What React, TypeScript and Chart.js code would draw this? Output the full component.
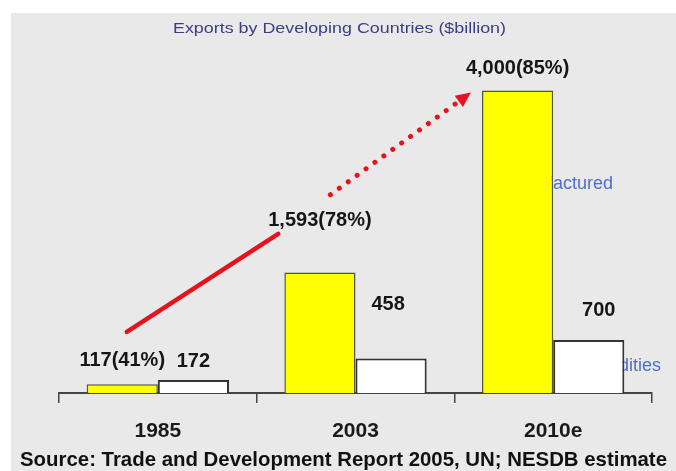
import React, { useEffect, useRef } from 'react';
import { Chart, registerables } from 'chart.js';

Chart.register(...registerables);

const W = 676;
const H = 471;

const categories = ['1985', '2003', '2010e'];
const manufactured = [117, 1593, 4000];
const commodities = [172, 458, 700];
const manufacturedShare = [41, 78, 85];
const seriesNames = ['Manufactured', 'Commodities'];
const titleText = 'Exports by Developing Countries ($billion)';
const sourceText = 'Source: Trade and Development Report 2005, UN; NESDB estimate';
const yMax = 5000;

// trend arrow annotation, in (category index, value) units
const trendSolid = [[-0.157, 808], [0.609, 2106]];
const trendDotted = [[0.873, 2623], [1.584, 3974]];

// label gaps above bar tops (px)
const manufLabelGap = [18, 47, 17];
const commLabelGap = [13, 48, 24];
const commLabelDx = [0, -3, 10];

const fmt = (v: number) => String(v).replace(/\B(?=(\d{3})+(?!\d))/g, ',');

function fitText(ctx: CanvasRenderingContext2D, text: string, x0: number, x1: number, baseline: number, font: string, color: string) {
  ctx.save();
  ctx.font = font;
  ctx.fillStyle = color;
  ctx.textAlign = 'left';
  ctx.textBaseline = 'alphabetic';
  const w = ctx.measureText(text).width;
  const sx = (x1 - x0) / w;
  ctx.translate(x0, baseline);
  ctx.scale(sx, 1);
  ctx.fillText(text, 0, 0);
  ctx.restore();
}

const RED = '#e8121c';

const decor = {
  id: 'decor',
  beforeDraw(chart: any) {
    const ctx = chart.ctx as CanvasRenderingContext2D;
    ctx.save();
    ctx.fillStyle = '#ffffff';
    ctx.fillRect(0, 0, W, H);
    ctx.fillStyle = '#e9e9e9';
    ctx.fillRect(11, 13, W - 11, H - 13);
    ctx.restore();
  },
  beforeDatasetsDraw(chart: any) {
    const ctx = chart.ctx as CanvasRenderingContext2D;
    ctx.save();
    ctx.font = '18px "Liberation Sans", Arial, sans-serif';
    ctx.fillStyle = '#4f6fc9';
    ctx.textAlign = 'right';
    ctx.textBaseline = 'alphabetic';
    ctx.fillText(seriesNames[0], 613, 189);
    ctx.fillText(seriesNames[1], 661, 371);
    ctx.restore();
  },
  afterDraw(chart: any) {
    const ctx = chart.ctx as CanvasRenderingContext2D;
    fitText(ctx, titleText, 173, 506, 33, '15px "Liberation Sans", Arial, sans-serif', '#3d3d84');
    fitText(ctx, sourceText, 20, 667, 466, 'bold 21px "Liberation Sans", Arial, sans-serif', '#111111');

    const m0 = chart.getDatasetMeta(0).data;
    const m1 = chart.getDatasetMeta(1).data;
    ctx.save();
    ctx.font = 'bold 20px "Liberation Sans", Arial, sans-serif';
    ctx.fillStyle = '#161616';
    ctx.textAlign = 'center';
    ctx.textBaseline = 'alphabetic';
    categories.forEach((_, i) => {
      const a = m0[i];
      const b = m1[i];
      ctx.fillText(`${fmt(manufactured[i])}(${manufacturedShare[i]}%)`, a.x, a.y - manufLabelGap[i]);
      ctx.fillText(fmt(commodities[i]), b.x + commLabelDx[i], b.y - commLabelGap[i]);
    });
    ctx.restore();

    const xs = chart.scales.x;
    const ys = chart.scales.y;
    const P = (p: number[]) => [xs.getPixelForValue(p[0]), ys.getPixelForValue(p[1])];

    // solid part
    const s0 = P(trendSolid[0]);
    const s1 = P(trendSolid[1]);
    ctx.save();
    ctx.strokeStyle = RED;
    ctx.lineWidth = 4.5;
    ctx.lineCap = 'round';
    ctx.beginPath();
    ctx.moveTo(s0[0], s0[1]);
    ctx.lineTo(s1[0], s1[1]);
    ctx.stroke();

    // dotted part with arrowhead
    const d0 = P(trendDotted[0]);
    const d1 = P(trendDotted[1]);
    const ang = Math.atan2(d1[1] - d0[1], d1[0] - d0[0]);
    const headLen = 15;
    const headHalf = 7;
    const bx = d1[0] - Math.cos(ang) * headLen;
    const by = d1[1] - Math.sin(ang) * headLen;
    ctx.setLineDash([0.01, 11]);
    ctx.lineWidth = 5;
    ctx.beginPath();
    ctx.moveTo(d0[0], d0[1]);
    ctx.lineTo(bx, by);
    ctx.stroke();
    ctx.setLineDash([]);
    ctx.fillStyle = RED;
    ctx.beginPath();
    ctx.moveTo(d1[0], d1[1]);
    ctx.lineTo(bx + Math.sin(ang) * headHalf, by - Math.cos(ang) * headHalf);
    ctx.lineTo(bx - Math.sin(ang) * headHalf, by + Math.cos(ang) * headHalf);
    ctx.closePath();
    ctx.fill();
    ctx.restore();
  },
};

export default function App() {
  const ref = useRef<HTMLCanvasElement>(null);
  useEffect(() => {
    if (!ref.current) return;
    const chart = new Chart(ref.current, {
      type: 'bar',
      data: {
        labels: categories,
        datasets: [
          {
            label: seriesNames[0],
            data: manufactured,
            backgroundColor: '#ffff00',
            borderColor: '#55553a',
            borderWidth: 1.5,
            categoryPercentage: 0.72,
            barPercentage: 1,
          },
          {
            label: seriesNames[1],
            data: commodities,
            backgroundColor: '#ffffff',
            borderColor: '#333333',
            borderWidth: 2,
            categoryPercentage: 0.72,
            barPercentage: 1,
          },
        ],
      },
      options: {
        animation: false,
        responsive: false,
        devicePixelRatio: 1,
        layout: { padding: { top: 15, left: 59, right: 24, bottom: 0 } },
        plugins: { legend: { display: false }, tooltip: { enabled: false }, title: { display: false } },
        scales: {
          x: {
            offset: true,
            afterFit: (scale: any) => { scale.height = 78; },
            grid: { display: true, offset: true, drawOnChartArea: false, drawTicks: true, tickLength: 10, color: '#444444', lineWidth: 1.5 },
            border: { display: true, color: '#444444', width: 2 },
            ticks: {
              color: '#1a1a1a',
              padding: 16,
              font: { family: '"Liberation Sans", Arial, sans-serif', size: 21, weight: 'bold' },
            },
          },
          y: { display: false, min: 0, max: yMax },
        },
      },
      plugins: [decor],
    } as any);
    return () => chart.destroy();
  }, []);
  return (
    <div style={{ position: 'absolute', left: 0, top: 0, width: W, height: H }}>
      <canvas ref={ref} width={W} height={H} style={{ display: 'block', width: W, height: H }} />
    </div>
  );
}
